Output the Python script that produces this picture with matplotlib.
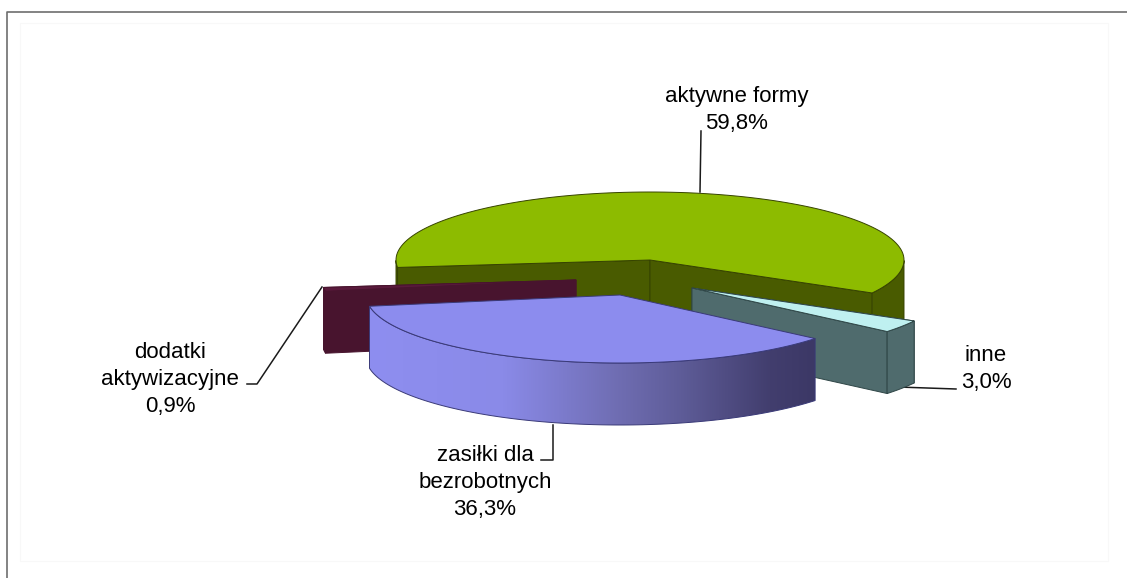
import numpy as np
import matplotlib
matplotlib.use("Agg")
import matplotlib.pyplot as plt
from matplotlib.colors import LinearSegmentedColormap
from matplotlib.patches import Polygon, Rectangle

plt.rcParams['font.family'] = ['Liberation Sans', 'DejaVu Sans']

# data, in the order the pie runs counter-clockwise
categories = ["aktywne formy", "dodatki\naktywizacyjne", "zasiłki dla\nbezrobotnych", "inne"]
values = [59.8, 0.9, 36.3, 3.0]

# pie look (pixel units, y grows downward)
START_ANGLE = -29
RX, RY = 254, 68
DEPTH = 62
apexes = [(650, 260), (576, 280), (620, 295), (692, 288)]
top_colors = ["#8DBB00", "#5A1A3C", "#8C8CEE", "#BFF0F0"]
wall_colors = ["#495B00", "#48142E", None, "#4F6B6D"]
edge_colors = ["#364300", "#48142E", "#3A3A78", "#2F4647"]
draw_order = [0, 1, 3, 2]

# baseline of the last line of each label
label_pos = [(737, 129), (170, 412), (485, 515), (986, 388)]
leaders = [
    [(701, 131), (700, 192)],
    [(322, 287), (257, 384), (247, 384)],
    [(553, 425), (553, 460), (541, 460)],
    [(898, 387), (956, 389)],
]


def arc(apex, t0, t1, drop=0, n=120):
    t = np.radians(np.linspace(t0, t1, n))
    return np.column_stack([apex[0] + RX * np.cos(t), apex[1] - RY * np.sin(t) + drop])


def front_runs(t0, t1):
    # parts of the rim that face the viewer
    ts = np.linspace(t0, t1, 400)
    mask = np.sin(np.radians(ts)) <= 0
    runs = []
    for part, ok in zip(np.split(ts, np.where(np.diff(mask))[0] + 1),
                        np.split(mask, np.where(np.diff(mask))[0] + 1)):
        if ok[0] and len(part) > 1:
            runs.append((part[0], part[-1]))
    return runs


def draw_slice(ax, i, t0, t1):
    apex = apexes[i]
    ec = edge_colors[i]
    wall = wall_colors[i]

    # cut faces
    if wall is not None:
        for t in (t1, t0):
            end = arc(apex, t, t, n=1)[0]
            pts = [apex, end, (end[0], end[1] + DEPTH), (apex[0], apex[1] + DEPTH)]
            ax.add_patch(Polygon(pts, closed=True, fc=wall, ec=ec, lw=0.7))

    # outer rim
    for r0, r1 in front_runs(t0, t1):
        pts = np.vstack([arc(apex, r0, r1), arc(apex, r1, r0, drop=DEPTH)])
        if wall is not None:
            ax.add_patch(Polygon(pts, closed=True, fc=wall, ec=ec, lw=0.7))
        else:
            cmap = LinearSegmentedColormap.from_list("rim", [
                (0, "#8E8EF0"), (0.3, "#8A8AE8"), (0.56, "#6F6DB2"),
                (0.7, "#5E5C98"), (0.9, "#423E6E"), (1, "#3C3866")])
            patch = Polygon(pts, closed=True, fc="none", ec=ec, lw=0.7, zorder=3)
            ax.add_patch(patch)
            x0, x1 = pts[:, 0].min(), pts[:, 0].max()
            y0, y1 = pts[:, 1].min(), pts[:, 1].max()
            im = ax.imshow(np.linspace(0, 1, 256)[None, :], cmap=cmap, aspect="auto",
                           extent=(x0, x1, y1, y0), zorder=2)
            im.set_clip_path(patch)

    # top
    pts = np.vstack([[apex], arc(apex, t0, t1)])
    ax.add_patch(Polygon(pts, closed=True, fc=top_colors[i], ec=ec, lw=0.7, zorder=3))


fig = plt.figure(figsize=(11.27, 5.78), dpi=100)
ax = fig.add_axes([0, 0, 1, 1])

# frame
ax.add_patch(Rectangle((20, 23), 1088, 538, fc="none", ec="#F8F8F8", lw=0.8))
ax.plot([7, 7, 1127], [578, 12, 12], color="#6E6E6E", lw=1.2)

shares = np.array(values) / sum(values) * 360
starts = START_ANGLE + np.concatenate([[0], np.cumsum(shares)[:-1]])

# leaders go under the slices
for line in leaders:
    xs, ys = zip(*line)
    ax.plot(xs, ys, color="#1A1A1A", lw=1.1, zorder=0.5)

for i in draw_order:
    draw_slice(ax, i, starts[i], starts[i] + shares[i])

for cat, val, (x, y) in zip(categories, values, label_pos):
    pct = f"{val:.1f}".replace(".", ",") + "%"
    ax.text(x, y, cat + "\n" + pct, ha="center", va="baseline", ma="center",
            fontsize=16, color="#000000", linespacing=1.38, zorder=6)

ax.set_xlim(0, 1127)
ax.set_ylim(578, 0)
ax.axis("off")

fig.savefig("out.png", dpi=100)
